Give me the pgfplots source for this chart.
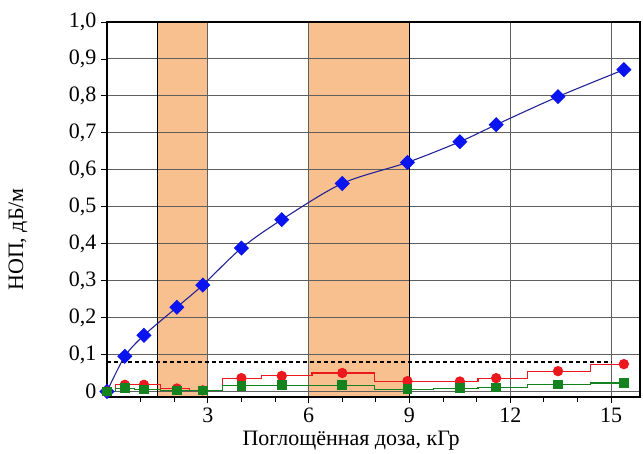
\documentclass[border=0pt]{standalone}
\usepackage{fontspec}
\setmainfont{Liberation Serif}
\usepackage{pgfplots}
\pgfplotsset{compat=1.18}

\definecolor{band}{RGB}{249,192,143}
\definecolor{gridc}{RGB}{95,95,95}
\definecolor{bluemk}{RGB}{10,20,240}
\definecolor{blueln}{RGB}{35,35,150}
\definecolor{redmk}{RGB}{235,25,30}
\definecolor{greenmk}{RGB}{20,130,30}

\begin{document}
\begin{tikzpicture}
\begin{axis}[
  set layers,
  scale only axis,
  width=533pt, height=375pt,
  xmin=0, xmax=15.86,
  ymin=-0.015, ymax=1.0,
  xtick={3,6,9,12,15},
  minor xtick={1,2,4,5,7,8,10,11,13,14},
  ytick={0,0.1,0.2,0.3,0.4,0.5,0.6,0.7,0.8,0.9,1.0},
  yticklabels={0,{0,1},{0,2},{0,3},{0,4},{0,5},{0,6},{0,7},{0,8},{0,9},{1,0}},
  tick pos=left,
  tick align=outside,
  major tick length=6pt,
  minor tick length=5pt,
  every tick/.style={black, line width=0.8pt},
  xmajorgrids, ymajorgrids,
  major grid style={gridc, line width=0.9pt},
  axis line style={black, line width=1.1pt},
  /pgf/number format/assume math mode=true,
  tick label style={font=\fontsize{22}{26}\selectfont},
  xticklabel style={yshift=-1pt},
  yticklabel style={xshift=-1pt},
  xlabel={Поглощённая доза, кГр},
  ylabel={НОП, дБ/м},
  label style={font=\fontsize{22}{26}\selectfont},
  xlabel style={at={(axis description cs:0.458,0)}, anchor=north, yshift=-31pt},
  ylabel style={at={(axis description cs:0,0.42)}, anchor=south, yshift=76pt},
]

% irradiation intervals
\addplot[on layer=axis background, fill=band, draw=none]
  coordinates {(1.5,-0.015) (3,-0.015) (3,1) (1.5,1)} -- cycle;
\addplot[on layer=axis background, fill=band, draw=none]
  coordinates {(6,-0.015) (9,-0.015) (9,1) (6,1)} -- cycle;
\addplot[black, line width=1.2pt] coordinates {(1.5,-0.015) (1.5,1)};
\addplot[black, line width=1.2pt] coordinates {(9,-0.015) (9,1)};

% threshold level
\addplot[black, line width=1.2pt, dash pattern=on 4pt off 3pt]
  coordinates {(0,0.08) (15,0.08)};

% total induced loss
\addplot[blueln, line width=1.1pt, smooth, mark=square*, mark size=4.8pt,
  mark options={solid, rotate=45, fill=bluemk, draw=bluemk}]
  coordinates {
    (0,0) (0.53,0.095) (1.1,0.152) (2.08,0.228) (2.85,0.288)
    (4.0,0.388) (5.2,0.465) (7.0,0.563) (8.94,0.620)
    (10.5,0.676) (11.58,0.722) (13.42,0.798) (15.38,0.871)
  };

% red series
\addplot[redmk, line width=1.1pt, const plot mark mid, mark=*, mark size=4.6pt,
  mark options={fill=redmk, draw=redmk}]
  coordinates {
    (0,0) (0.53,0.018) (1.1,0.018) (2.08,0.008) (2.85,0.003)
    (4.0,0.036) (5.2,0.042) (7.0,0.050) (8.94,0.028)
    (10.5,0.027) (11.58,0.036) (13.42,0.055) (15.38,0.074)
  };

% green series
\addplot[greenmk, line width=1.1pt, const plot mark mid, mark=square*, mark size=4.2pt,
  mark options={fill=greenmk, draw=greenmk}]
  coordinates {
    (0,0) (0.53,0.009) (1.1,0.005) (2.08,0.003) (2.85,0.002)
    (4.0,0.015) (5.2,0.017) (7.0,0.017) (8.94,0.006)
    (10.5,0.009) (11.58,0.011) (13.42,0.019) (15.38,0.023)
  };

\end{axis}
\path (current axis.south west) ++(-107pt,-56pt) coordinate (bbA);
\path (current axis.north east) ++(3pt,22pt) coordinate (bbB);
\useasboundingbox (bbA) rectangle (bbB);
\end{tikzpicture}
\end{document}
